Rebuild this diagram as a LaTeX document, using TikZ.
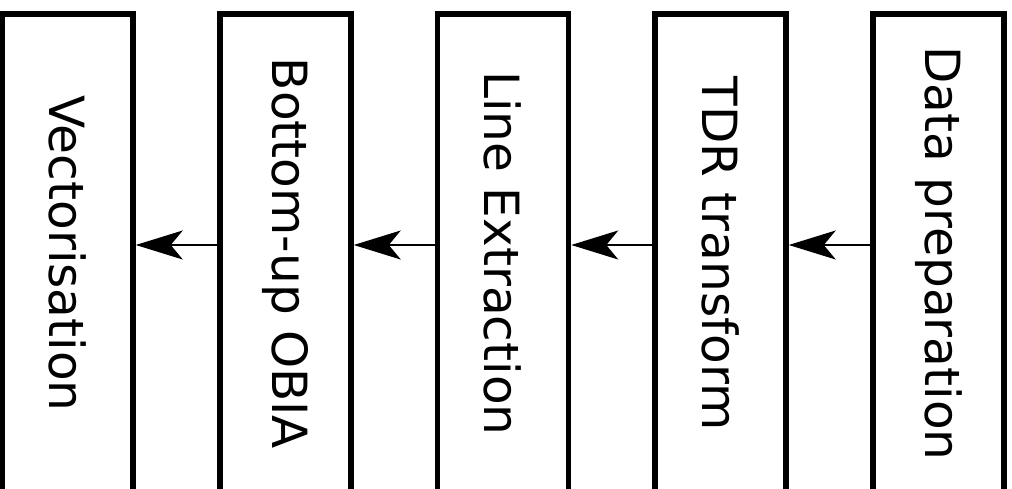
\documentclass[tikz,border=0pt]{standalone}
\usepackage{fontspec}
\setmainfont{DejaVu Sans}
\usetikzlibrary{arrows.meta}
\begin{document}
\begin{tikzpicture}[x=1pt,y=-1pt,
  stagebox/.style={draw=black, line width=5.5pt, fill=white, minimum width=131pt, minimum height=479pt, inner sep=0pt, font=\fontsize{48.5}{50}\selectfont},
  flow/.style={line width=2pt, -{Stealth[length=47pt,width=29pt,inset=12pt]}}]
\useasboundingbox (0,0) rectangle (1012,489);
\begin{scope}
\clip (0,0) rectangle (1012,489);
\node[stagebox] (b1) at (67.5,253.5) {\rotatebox{-90}{Vectorisation}};
\node[stagebox] (b2) at (285.5,253.5) {\rotatebox{-90}{Bottom-up OBIA}};
\node[stagebox] (b3) at (503,253.5) {\rotatebox{-90}{Line Extraction}};
\node[stagebox] (b4) at (720.5,253.5) {\rotatebox{-90}{TDR transform}};
\node[stagebox] (b5) at (938.5,253.5) {\rotatebox{-90}{Data preparation}};
\draw[flow] (b2.west |- 0,245) -- (b1.east |- 0,245);
\draw[flow] (b3.west |- 0,245) -- (b2.east |- 0,245);
\draw[flow] (b4.west |- 0,245) -- (b3.east |- 0,245);
\draw[flow] (b5.west |- 0,245) -- (b4.east |- 0,245);
\end{scope}
\end{tikzpicture}
\end{document}
